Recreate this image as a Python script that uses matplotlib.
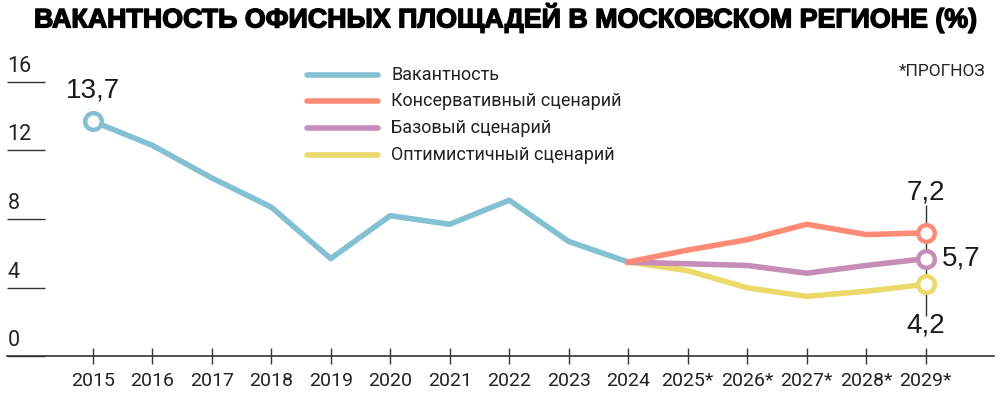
import matplotlib
matplotlib.use("Agg")
import matplotlib.pyplot as plt
import matplotlib.patheffects as pe
import numpy as np

# ---- data ----
years = ["2015", "2016", "2017", "2018", "2019", "2020", "2021", "2022", "2023",
         "2024", "2025*", "2026*", "2027*", "2028*", "2029*"]
vacancy = [13.7, 12.3, 10.4, 8.7, 5.7, 8.2, 7.7, 9.1, 6.7, 5.5]
conservative = [5.5, 6.2, 6.8, 7.7, 7.1, 7.2]
base = [5.5, 5.4, 5.3, 4.85, 5.3, 5.7]
optimistic = [5.5, 5.0, 4.0, 3.5, 3.8, 4.2]
yticks = [0, 4, 8, 12, 16]
series_names = ["Вакантность", "Консервативный сценарий", "Базовый сценарий",
                "Оптимистичный сценарий"]
title = "ВАКАНТНОСТЬ ОФИСНЫХ ПЛОЩАДЕЙ В МОСКОВСКОМ РЕГИОНЕ (%)"

C_BLUE = "#82c0d2"
C_ORANGE = "#fd8b75"
C_PURPLE = "#c68db8"
C_YELLOW = "#ebd96a"
DARK = "#1a1a1a"

NARROW = ["Roboto", "DejaVu Sans"]
REG = ["Liberation Sans", "DejaVu Sans"]

fig = plt.figure(figsize=(10, 3.98), dpi=100)
ax = fig.add_axes([0, 0, 1, 1])
ax.set_xlim(-1.558, 15.249)
ax.set_ylim(-2.417, 20.76)
ax.patch.set_alpha(0)

x_hist = np.arange(len(vacancy))
x_fc = np.arange(len(vacancy) - 1, len(years))

lw = 4.0
ax.plot(x_hist, vacancy, color=C_BLUE, lw=lw, zorder=3)
ax.plot(x_fc, optimistic, color=C_YELLOW, lw=lw, zorder=3)
ax.plot(x_fc, base, color=C_PURPLE, lw=lw, zorder=3)
ax.plot(x_fc, conservative, color=C_ORANGE, lw=lw, zorder=3)

mk = dict(marker="o", ms=12, mfc="white", mew=3.2, ls="none", zorder=5)
ax.plot([x_hist[0]], [vacancy[0]], mec=C_BLUE, **mk)
ax.plot([x_fc[-1]], [conservative[-1]], mec=C_ORANGE, **mk)
ax.plot([x_fc[-1]], [base[-1]], mec=C_PURPLE, **mk)
ax.plot([x_fc[-1]], [optimistic[-1]], mec=C_YELLOW, **mk)

# vertical guide at last forecast year
xl = x_fc[-1]
ax.vlines(xl, optimistic[-1], 8.85, color="#333333", lw=1.0, zorder=2)
ax.vlines(xl, 2.35, optimistic[-1], color="#333333", lw=1.0, zorder=2)

# value labels
fs_val = 20
ax.text(x_hist[0], vacancy[0] + 1.05, f"{vacancy[0]:.1f}".replace(".", ","),
        ha="center", va="bottom", fontsize=fs_val, family=REG, color=DARK)
ax.text(xl, conservative[-1] + 1.6, f"{conservative[-1]:.1f}".replace(".", ","),
        ha="center", va="bottom", fontsize=fs_val, family=REG, color=DARK)
ax.text(xl + 0.27, base[-1], f"{base[-1]:.1f}".replace(".", ","),
        ha="left", va="center", fontsize=fs_val, family=REG, color=DARK)
ax.text(xl, optimistic[-1] - 1.65, f"{optimistic[-1]:.1f}".replace(".", ","),
        ha="center", va="top", fontsize=fs_val, family=REG, color=DARK)

# x axis
for s in ["top", "right", "left"]:
    ax.spines[s].set_visible(False)
ax.spines["bottom"].set_position(("data", 0))
ax.spines["bottom"].set_bounds(-1.44, 15.14)
ax.spines["bottom"].set_color("#333333")
ax.spines["bottom"].set_linewidth(1.2)
ax.set_xticks(range(len(years)))
ax.set_xticklabels(years, fontsize=14, family=NARROW, color="#222222")
ax.tick_params(axis="x", direction="inout", length=12, width=1.0,
               color="#333333", pad=5)
ax.set_yticks([])

# y tick labels with short underlines
for v in yticks:
    ax.hlines(v, -1.44, -0.80, color="#333333", lw=1.0)
    ax.text(-1.43, v + 0.3, str(v), ha="left", va="bottom",
            fontsize=15.5, family=NARROW, color="#222222")

# legend (manual)
leg_colors = [C_BLUE, C_ORANGE, C_PURPLE, C_YELLOW]
for i, (name, c) in enumerate(zip(series_names, leg_colors)):
    y = 16.4 - i * 1.55
    ax.plot([3.6, 4.8], [y, y], color=c, lw=4.0, solid_capstyle="round")
    ax.text(5.02, y, name, ha="left", va="center", fontsize=13,
            family=NARROW, color="#222222")

ax.text(15.0, 16.6, "*ПРОГНОЗ", ha="right", va="center", fontsize=12.5,
        family=NARROW, color="#222222")

fig.text(0.034, 0.955, title, ha="left", va="center", fontsize=19.3,
         fontweight="bold", family=["Liberation Sans", "DejaVu Sans"], color="black",
         path_effects=[pe.Stroke(linewidth=1.0, foreground="black"), pe.Normal()])

fig.savefig("out.png", dpi=100, facecolor="white")
